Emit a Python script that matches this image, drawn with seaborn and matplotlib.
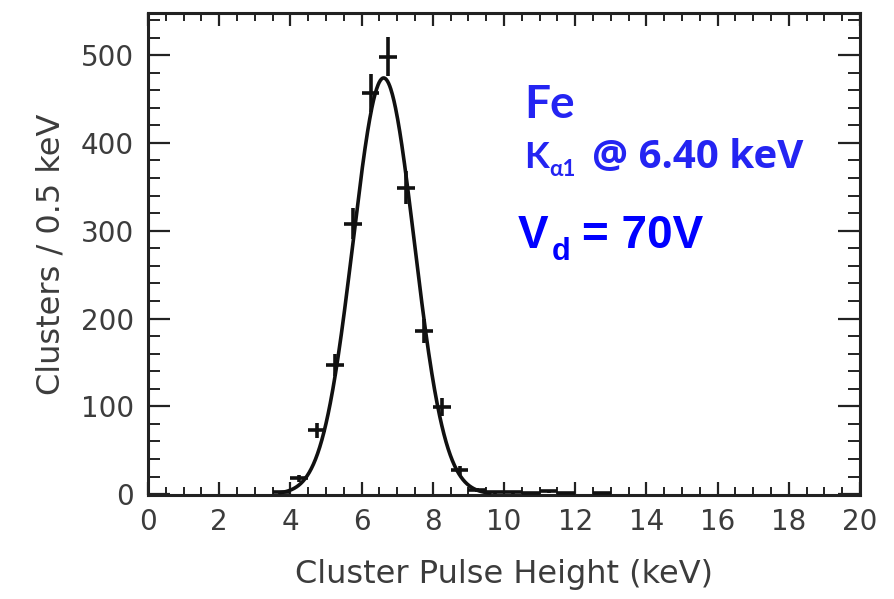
import numpy as np
import pandas as pd
import matplotlib
matplotlib.use("Agg")
import matplotlib.pyplot as plt
import seaborn as sns
from matplotlib.ticker import MultipleLocator

# ---- data ----
energy = [3.75, 4.25, 4.75, 5.25, 5.75, 6.25, 6.75, 7.25, 7.75, 8.25, 8.75,
          9.25, 9.75, 10.25, 10.75, 11.25, 11.75, 12.75]
counts = [2, 18, 73, 147, 308, 457, 498, 349, 186, 99, 27,
          5, 2, 2, 1, 3, 1, 1]
bin_half_width = 0.25
# Gaussian fit parameters
fit_amplitude = 474.0
fit_mean = 6.62
fit_sigma = 0.86
fit_range = (3.7, 9.6)

x_ticks = [0, 2, 4, 6, 8, 10, 12, 14, 16, 18, 20]
y_ticks = [0, 100, 200, 300, 400, 500]

sns.set_theme(style="ticks")
plt.rcParams["font.family"] = ["DejaVu Sans"]

W, H = 894, 599
fig = plt.figure(figsize=(W / 100, H / 100), dpi=100)
ax = fig.add_axes([148 / W, 1 - 495 / H, (860 - 148) / W, (495 - 13) / H])

df = pd.DataFrame({"energy": energy, "counts": counts})
df["err"] = np.sqrt(df["counts"])

xf = np.linspace(fit_range[0], fit_range[1], 400)
yf = fit_amplitude * np.exp(-0.5 * ((xf - fit_mean) / fit_sigma) ** 2)
sns.lineplot(x=xf, y=yf, ax=ax, color="#111111", lw=2.6, zorder=3)

ax.errorbar(df["energy"], df["counts"], xerr=bin_half_width, yerr=df["err"],
            fmt="none", ecolor="#111111", elinewidth=2.6, capsize=0, zorder=4)

ax.set_xlim(0, 20)
ax.set_ylim(-1, 548)
ax.set_xticks(x_ticks)
ax.set_yticks(y_ticks)
ax.xaxis.set_minor_locator(MultipleLocator(0.5))
ax.yaxis.set_minor_locator(MultipleLocator(20))

tick_color = "#3c3c3c"
ax.tick_params(axis="x", which="major", direction="in", length=9.5, width=1.6,
               top=True, bottom=True, labelsize=20, pad=9, labelcolor=tick_color,
               color="#222222")
ax.tick_params(axis="x", which="minor", direction="in", length=5.5, width=1.4,
               top=True, bottom=True, color="#222222")
ax.tick_params(axis="y", which="major", direction="in", length=16, width=1.6,
               left=True, right=True, labelsize=20, pad=10, labelcolor=tick_color,
               color="#222222")
ax.tick_params(axis="y", which="minor", direction="in", length=8.5, width=1.4,
               left=True, right=True, color="#222222")
for s in ax.spines.values():
    s.set_linewidth(2.2)
    s.set_color("#222222")
    s.set_visible(True)

ax.set_xlabel("Cluster Pulse Height (keV)", fontsize=23, color=tick_color, labelpad=17)
ax.set_ylabel("Clusters / 0.5 keV", fontsize=23, color=tick_color, labelpad=10)

# ---- annotations ----
blue_light = "#2424f2"
blue = "#0000ff"
def fx(px):
    return px / W
def fy(py):
    return 1 - py / H

fig.text(fx(524), fy(118), "Fe", fontsize=33, fontweight="bold", color=blue_light,
         family=["Lato", "DejaVu Sans"], va="baseline", ha="left")
fig.text(fx(524), fy(168), "K", fontsize=26, fontweight="bold", color=blue_light,
         family=["Lato", "DejaVu Sans"], va="baseline", ha="left")
fig.text(fx(549), fy(176), "α1", fontsize=16, fontweight="bold", color=blue_light,
         family=["Lato", "DejaVu Sans"], va="baseline", ha="left")
fig.text(fx(592), fy(168), "@ 6.40 keV", fontsize=29, fontweight="bold", color=blue_light,
         family=["Open Sans", "DejaVu Sans"], va="baseline", ha="left")

fig.text(fx(518), fy(248), "V", fontsize=33, fontweight="bold", color=blue,
         family=["Liberation Sans", "DejaVu Sans"], va="baseline", ha="left")
fig.text(fx(552), fy(260), "d", fontsize=22, fontweight="bold", color=blue,
         family=["Liberation Sans", "DejaVu Sans"], va="baseline", ha="left")
fig.text(fx(582), fy(248), "= 70V", fontsize=33, fontweight="bold", color=blue,
         family=["Liberation Sans", "DejaVu Sans"], va="baseline", ha="left")

fig.savefig("out.png", dpi=100)
